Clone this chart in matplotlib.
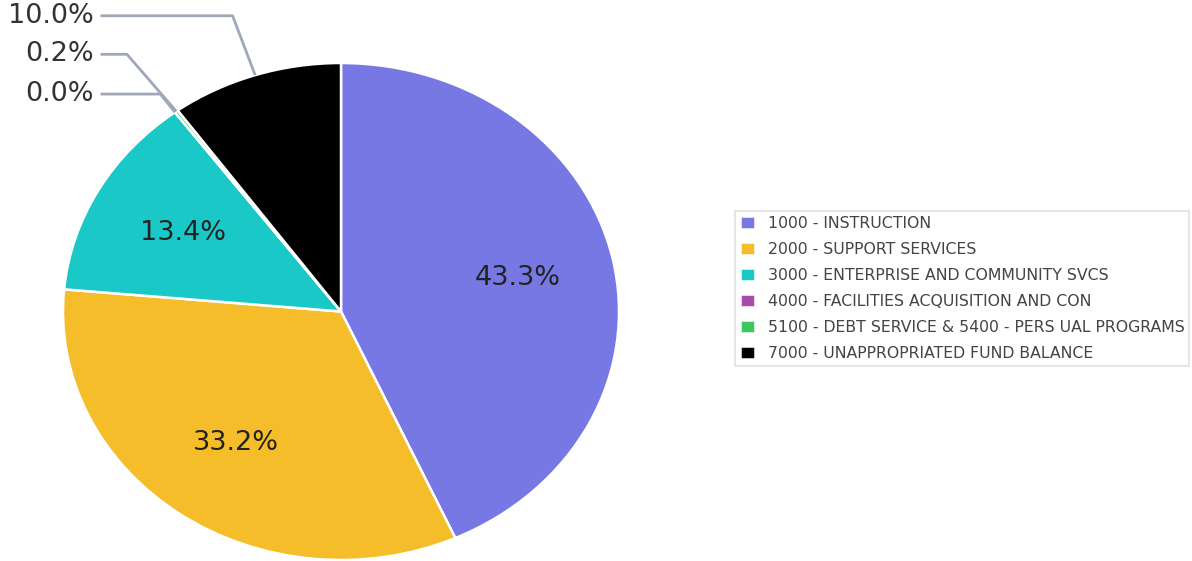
import numpy as np
import matplotlib.pyplot as plt

# Budget share by function
categories = [
    '1000 - INSTRUCTION',
    '2000 - SUPPORT SERVICES',
    '3000 - ENTERPRISE AND COMMUNITY SVCS',
    '4000 - FACILITIES ACQUISITION AND CON',
    '5100 - DEBT SERVICE & 5400 - PERS UAL PROGRAMS',
    '7000 - UNAPPROPRIATED FUND BALANCE',
]
shares = [43.3, 33.2, 13.4, 0.0, 0.2, 10.0]
colors = ['#7878e4', '#f6bd2b', '#1ac8c8', '#a94ca9', '#3dc75e', '#000000']

W, H = 1192, 561
fig = plt.figure(figsize=(W / 100, H / 100), dpi=100)

# pie is drawn slightly wider than tall
ax = fig.add_axes([63 / W, 1 / H, 556 / W, 497 / H])
wedges, texts, autotexts = ax.pie(
    shares, colors=colors, startangle=90, counterclock=False,
    autopct=lambda p: f'{p:.1f}%' if p > 11 else '',
    pctdistance=0.65,
    wedgeprops=dict(edgecolor='white', linewidth=1.8),
    textprops=dict(fontsize=19.5, color='#222222'))
ax.set_aspect('auto')
ax.set_xlim(-1, 1)
ax.set_ylim(-1, 1)
ax.axis('off')

# outside labels for the thin slices, with elbowed leader lines
total = sum(shares)
outside = {5: (1.19, -0.39), 4: (1.035, -0.77), 3: (0.875, -0.65)}
for i, (ty, ex) in outside.items():
    start = sum(shares[:i]) / total
    mid = start + shares[i] / total / 2
    ang = np.deg2rad(90 - mid * 360)
    px, py = np.cos(ang), np.sin(ang)
    ax.plot([-0.865, ex, px], [ty, ty, py], color='#9ea8b8', lw=2,
            clip_on=False, solid_capstyle='butt')
    ax.text(-0.89, ty, f'{shares[i]:.1f}%', ha='right', va='center',
            fontsize=19.5, color='#333333', clip_on=False)

leg = fig.legend(wedges, categories, loc='upper left',
                 bbox_to_anchor=(735 / W, 1 - 211 / H), borderaxespad=0,
                 fontsize=11.3, frameon=True, fancybox=False,
                 edgecolor='#d8d8d8', handlelength=0.95, handleheight=0.95,
                 handletextpad=0.85, labelspacing=0.69, borderpad=0.3,
                 labelcolor='#444444')
leg.get_frame().set_linewidth(1.2)

fig.savefig('out.png', dpi=100)
